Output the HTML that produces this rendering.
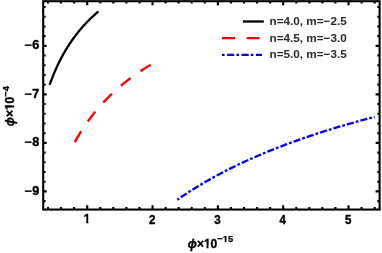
<!DOCTYPE html><html><head><meta charset="utf-8"><title>plot</title><style>html,body{margin:0;padding:0;background:#fff}svg{display:block;will-change:transform}text{font-family:"Liberation Sans",sans-serif;font-weight:bold}</style></head><body>
<svg width="382" height="253" viewBox="0 0 382 253">
<rect width="382" height="253" fill="#fff"/>
<rect x="43.2" y="1.2" width="336.40" height="208.35" fill="none" stroke="#000" stroke-width="2.1"/>
<path d="M48.00 209.55 v-2.6 M48.00 1.2 v2.3 M61.07 209.55 v-2.6 M61.07 1.2 v2.3 M74.13 209.55 v-2.6 M74.13 1.2 v2.3 M87.20 209.55 v-4.3 M87.20 1.2 v4.0 M100.27 209.55 v-2.6 M100.27 1.2 v2.3 M113.33 209.55 v-2.6 M113.33 1.2 v2.3 M126.40 209.55 v-2.6 M126.40 1.2 v2.3 M139.46 209.55 v-2.6 M139.46 1.2 v2.3 M152.53 209.55 v-4.3 M152.53 1.2 v4.0 M165.60 209.55 v-2.6 M165.60 1.2 v2.3 M178.66 209.55 v-2.6 M178.66 1.2 v2.3 M191.73 209.55 v-2.6 M191.73 1.2 v2.3 M204.79 209.55 v-2.6 M204.79 1.2 v2.3 M217.86 209.55 v-4.3 M217.86 1.2 v4.0 M230.93 209.55 v-2.6 M230.93 1.2 v2.3 M243.99 209.55 v-2.6 M243.99 1.2 v2.3 M257.06 209.55 v-2.6 M257.06 1.2 v2.3 M270.12 209.55 v-2.6 M270.12 1.2 v2.3 M283.19 209.55 v-4.3 M283.19 1.2 v4.0 M296.26 209.55 v-2.6 M296.26 1.2 v2.3 M309.32 209.55 v-2.6 M309.32 1.2 v2.3 M322.39 209.55 v-2.6 M322.39 1.2 v2.3 M335.45 209.55 v-2.6 M335.45 1.2 v2.3 M348.52 209.55 v-4.3 M348.52 1.2 v4.0 M361.59 209.55 v-2.6 M361.59 1.2 v2.3 M374.65 209.55 v-2.6 M374.65 1.2 v2.3 M43.2 201.11 h2.4 M379.6 201.11 h-2.3 M43.2 191.41 h3.5 M379.6 191.41 h-4.0 M43.2 181.71 h2.4 M379.6 181.71 h-2.3 M43.2 172.00 h2.4 M379.6 172.00 h-2.3 M43.2 162.30 h2.4 M379.6 162.30 h-2.3 M43.2 152.59 h2.4 M379.6 152.59 h-2.3 M43.2 142.89 h3.5 M379.6 142.89 h-4.0 M43.2 133.19 h2.4 M379.6 133.19 h-2.3 M43.2 123.48 h2.4 M379.6 123.48 h-2.3 M43.2 113.78 h2.4 M379.6 113.78 h-2.3 M43.2 104.07 h2.4 M379.6 104.07 h-2.3 M43.2 94.37 h3.5 M379.6 94.37 h-4.0 M43.2 84.67 h2.4 M379.6 84.67 h-2.3 M43.2 74.96 h2.4 M379.6 74.96 h-2.3 M43.2 65.26 h2.4 M379.6 65.26 h-2.3 M43.2 55.55 h2.4 M379.6 55.55 h-2.3 M43.2 45.85 h3.5 M379.6 45.85 h-4.0 M43.2 36.15 h2.4 M379.6 36.15 h-2.3 M43.2 26.44 h2.4 M379.6 26.44 h-2.3 M43.2 16.74 h2.4 M379.6 16.74 h-2.3 M43.2 7.03 h2.4 M379.6 7.03 h-2.3" stroke="#000" stroke-width="2.1" fill="none"/>
<g transform="translate(87.0,223.15) scale(0.96,1.04)"><text font-size="12.0" text-anchor="middle" stroke="#000" stroke-width="0.4">1</text><rect x="-3.8" y="-2.7" width="3.0" height="4" fill="#fff"/><rect x="1.45" y="-2.7" width="2.8" height="4" fill="#fff"/></g>
<g transform="translate(152.1,223.55) scale(0.96,1.04)"><text font-size="12.0" text-anchor="middle" stroke="#000" stroke-width="0.4">2</text></g>
<g transform="translate(217.5,223.55) scale(0.96,1.04)"><text font-size="12.0" text-anchor="middle" stroke="#000" stroke-width="0.4">3</text></g>
<g transform="translate(282.8,223.55) scale(0.96,1.04)"><text font-size="12.0" text-anchor="middle" stroke="#000" stroke-width="0.4">4</text></g>
<g transform="translate(348.1,223.55) scale(0.96,1.04)"><text font-size="12.0" text-anchor="middle" stroke="#000" stroke-width="0.4">5</text></g>
<text transform="translate(39.2,194.7) scale(1.05,1.0)" font-size="12.0" text-anchor="end" stroke="#000" stroke-width="0.4">−9</text>
<text transform="translate(39.2,146.2) scale(1.05,1.0)" font-size="12.0" text-anchor="end" stroke="#000" stroke-width="0.4">−8</text>
<text transform="translate(39.2,97.7) scale(1.05,1.0)" font-size="12.0" text-anchor="end" stroke="#000" stroke-width="0.4">−7</text>
<text transform="translate(39.2,49.1) scale(1.05,1.0)" font-size="12.0" text-anchor="end" stroke="#000" stroke-width="0.4">−6</text>
<g transform="translate(187.8,248.1)"><text font-size="12" stroke="#000" stroke-width="0.35"><tspan font-style="italic">ϕ</tspan>×10<tspan font-size="9.4" dy="-5.9" stroke-width="0.25">−15</tspan></text><rect x="16" y="-2.5" width="2.72" height="3.6" fill="#fff"/><rect x="20.73" y="-2.5" width="2.3" height="3.6" fill="#fff"/><rect x="34.9" y="-7.2" width="2.1" height="2" fill="#fff"/><rect x="38.55" y="-7.2" width="1.75" height="2" fill="#fff"/></g>
<g transform="translate(14.4,126.2) rotate(-90)"><text font-size="12" stroke="#000" stroke-width="0.35"><tspan font-style="italic">ϕ</tspan>×10<tspan font-size="9.4" dy="-5.9" stroke-width="0.25">−4</tspan></text><rect x="16" y="-2.5" width="2.72" height="3.6" fill="#fff"/><rect x="20.73" y="-2.5" width="2.3" height="3.6" fill="#fff"/></g>
<path d="M49.60 84.88 L50.31 82.91 L51.01 81.00 L51.72 79.14 L52.43 77.33 L53.14 75.56 L53.84 73.84 L54.55 72.16 L55.26 70.52 L55.97 68.92 L56.67 67.35 L57.38 65.82 L58.09 64.33 L58.79 62.87 L59.50 61.44 L60.21 60.04 L60.92 58.67 L61.62 57.33 L62.33 56.01 L63.04 54.72 L63.74 53.46 L64.45 52.22 L65.16 51.00 L65.87 49.81 L66.57 48.64 L67.28 47.49 L67.99 46.37 L68.70 45.26 L69.40 44.17 L70.11 43.10 L70.82 42.05 L71.52 41.02 L72.23 40.01 L72.94 39.01 L73.65 38.03 L74.35 37.06 L75.06 36.12 L75.77 35.18 L76.48 34.26 L77.18 33.36 L77.89 32.47 L78.60 31.59 L79.30 30.73 L80.01 29.88 L80.72 29.04 L81.43 28.21 L82.13 27.40 L82.84 26.60 L83.55 25.81 L84.26 25.03 L84.96 24.26 L85.67 23.50 L86.38 22.76 L87.08 22.02 L87.79 21.30 L88.50 20.58 L89.21 19.88 L89.91 19.18 L90.62 18.49 L91.33 17.81 L92.03 17.14 L92.74 16.48 L93.45 15.83 L94.16 15.19 L94.86 14.55 L95.57 13.93 L96.28 13.31 L96.99 12.70 L97.69 12.09 L98.40 11.50" stroke="#000" stroke-width="2.3" fill="none" stroke-linejoin="round"/>
<path d="M74.80 142.08 L75.90 140.13 L77.00 138.21 L78.10 136.35 L79.20 134.52 L80.30 132.73 L81.40 130.98 L82.50 129.27 L83.60 127.60 L84.70 125.96 L85.80 124.35 L86.90 122.78 L88.00 121.23 L89.10 119.72 L90.20 118.24 L91.30 116.78 L92.40 115.35 L93.50 113.95 L94.60 112.57 L95.70 111.22 L96.80 109.90 L97.90 108.59 L99.00 107.31 L100.10 106.05 L101.20 104.82 L102.30 103.60 L103.40 102.41 L104.50 101.23 L105.60 100.07 L106.70 98.94 L107.80 97.82 L108.90 96.72 L110.00 95.63 L111.10 94.57 L112.20 93.52 L113.30 92.48 L114.40 91.47 L115.50 90.46 L116.60 89.47 L117.70 88.50 L118.80 87.54 L119.90 86.60 L121.00 85.67 L122.10 84.75 L123.20 83.85 L124.30 82.96 L125.40 82.08 L126.50 81.21 L127.60 80.36 L128.70 79.51 L129.80 78.68 L130.90 77.86 L132.00 77.06 L133.10 76.26 L134.20 75.47 L135.30 74.69 L136.40 73.93 L137.50 73.17 L138.60 72.43 L139.70 71.69 L140.80 70.96 L141.90 70.24 L143.00 69.54 L144.10 68.84 L145.20 68.15 L146.30 67.46 L147.40 66.79 L148.50 66.12 L149.60 65.47 L150.70 64.82" stroke="#f00" stroke-width="2.35" fill="none" stroke-dasharray="12.4 12"/>
<path d="M177.30 199.74 L180.16 197.76 L183.02 195.82 L185.88 193.92 L188.74 192.06 L191.60 190.23 L194.47 188.44 L197.33 186.68 L200.19 184.95 L203.05 183.26 L205.91 181.60 L208.77 179.96 L211.63 178.36 L214.49 176.78 L217.35 175.23 L220.21 173.70 L223.07 172.20 L225.93 170.73 L228.80 169.28 L231.66 167.85 L234.52 166.45 L237.38 165.06 L240.24 163.70 L243.10 162.36 L245.96 161.04 L248.82 159.74 L251.68 158.47 L254.54 157.20 L257.40 155.96 L260.27 154.74 L263.13 153.53 L265.99 152.34 L268.85 151.17 L271.71 150.01 L274.57 148.87 L277.43 147.75 L280.29 146.64 L283.15 145.54 L286.01 144.46 L288.87 143.40 L291.73 142.35 L294.60 141.31 L297.46 140.29 L300.32 139.28 L303.18 138.28 L306.04 137.29 L308.90 136.32 L311.76 135.36 L314.62 134.41 L317.48 133.47 L320.34 132.55 L323.20 131.63 L326.07 130.73 L328.93 129.84 L331.79 128.96 L334.65 128.09 L337.51 127.22 L340.37 126.37 L343.23 125.53 L346.09 124.70 L348.95 123.88 L351.81 123.07 L354.67 122.26 L357.53 121.47 L360.40 120.68 L363.26 119.91 L366.12 119.14 L368.98 118.38 L371.84 117.63 L374.70 116.88" stroke="#00f" stroke-width="2.35" fill="none" stroke-dasharray="2.8 2.03 7.15 2.03" stroke-dashoffset="0.6"/>
<path d="M242.9 21.5 H263.8" stroke="#000" stroke-width="2.3"/>
<path d="M222 38.2 H235 M246.7 38.2 H259.5" stroke="#f00" stroke-width="2.3"/>
<path d="M222 54.8 H262" stroke="#00f" stroke-width="2.3" stroke-dasharray="2.6 2.5 7.2 2.1"/>
<text x="269.5" y="24.8" font-size="11.72" fill="#2a2a2a">n=4.0, m=−2.5</text>
<text x="269.5" y="41.5" font-size="11.72" fill="#2a2a2a">n=4.5, m=−3.0</text>
<text x="269.5" y="58.1" font-size="11.72" fill="#2a2a2a">n=5.0, m=−3.5</text>
</svg></body></html>
